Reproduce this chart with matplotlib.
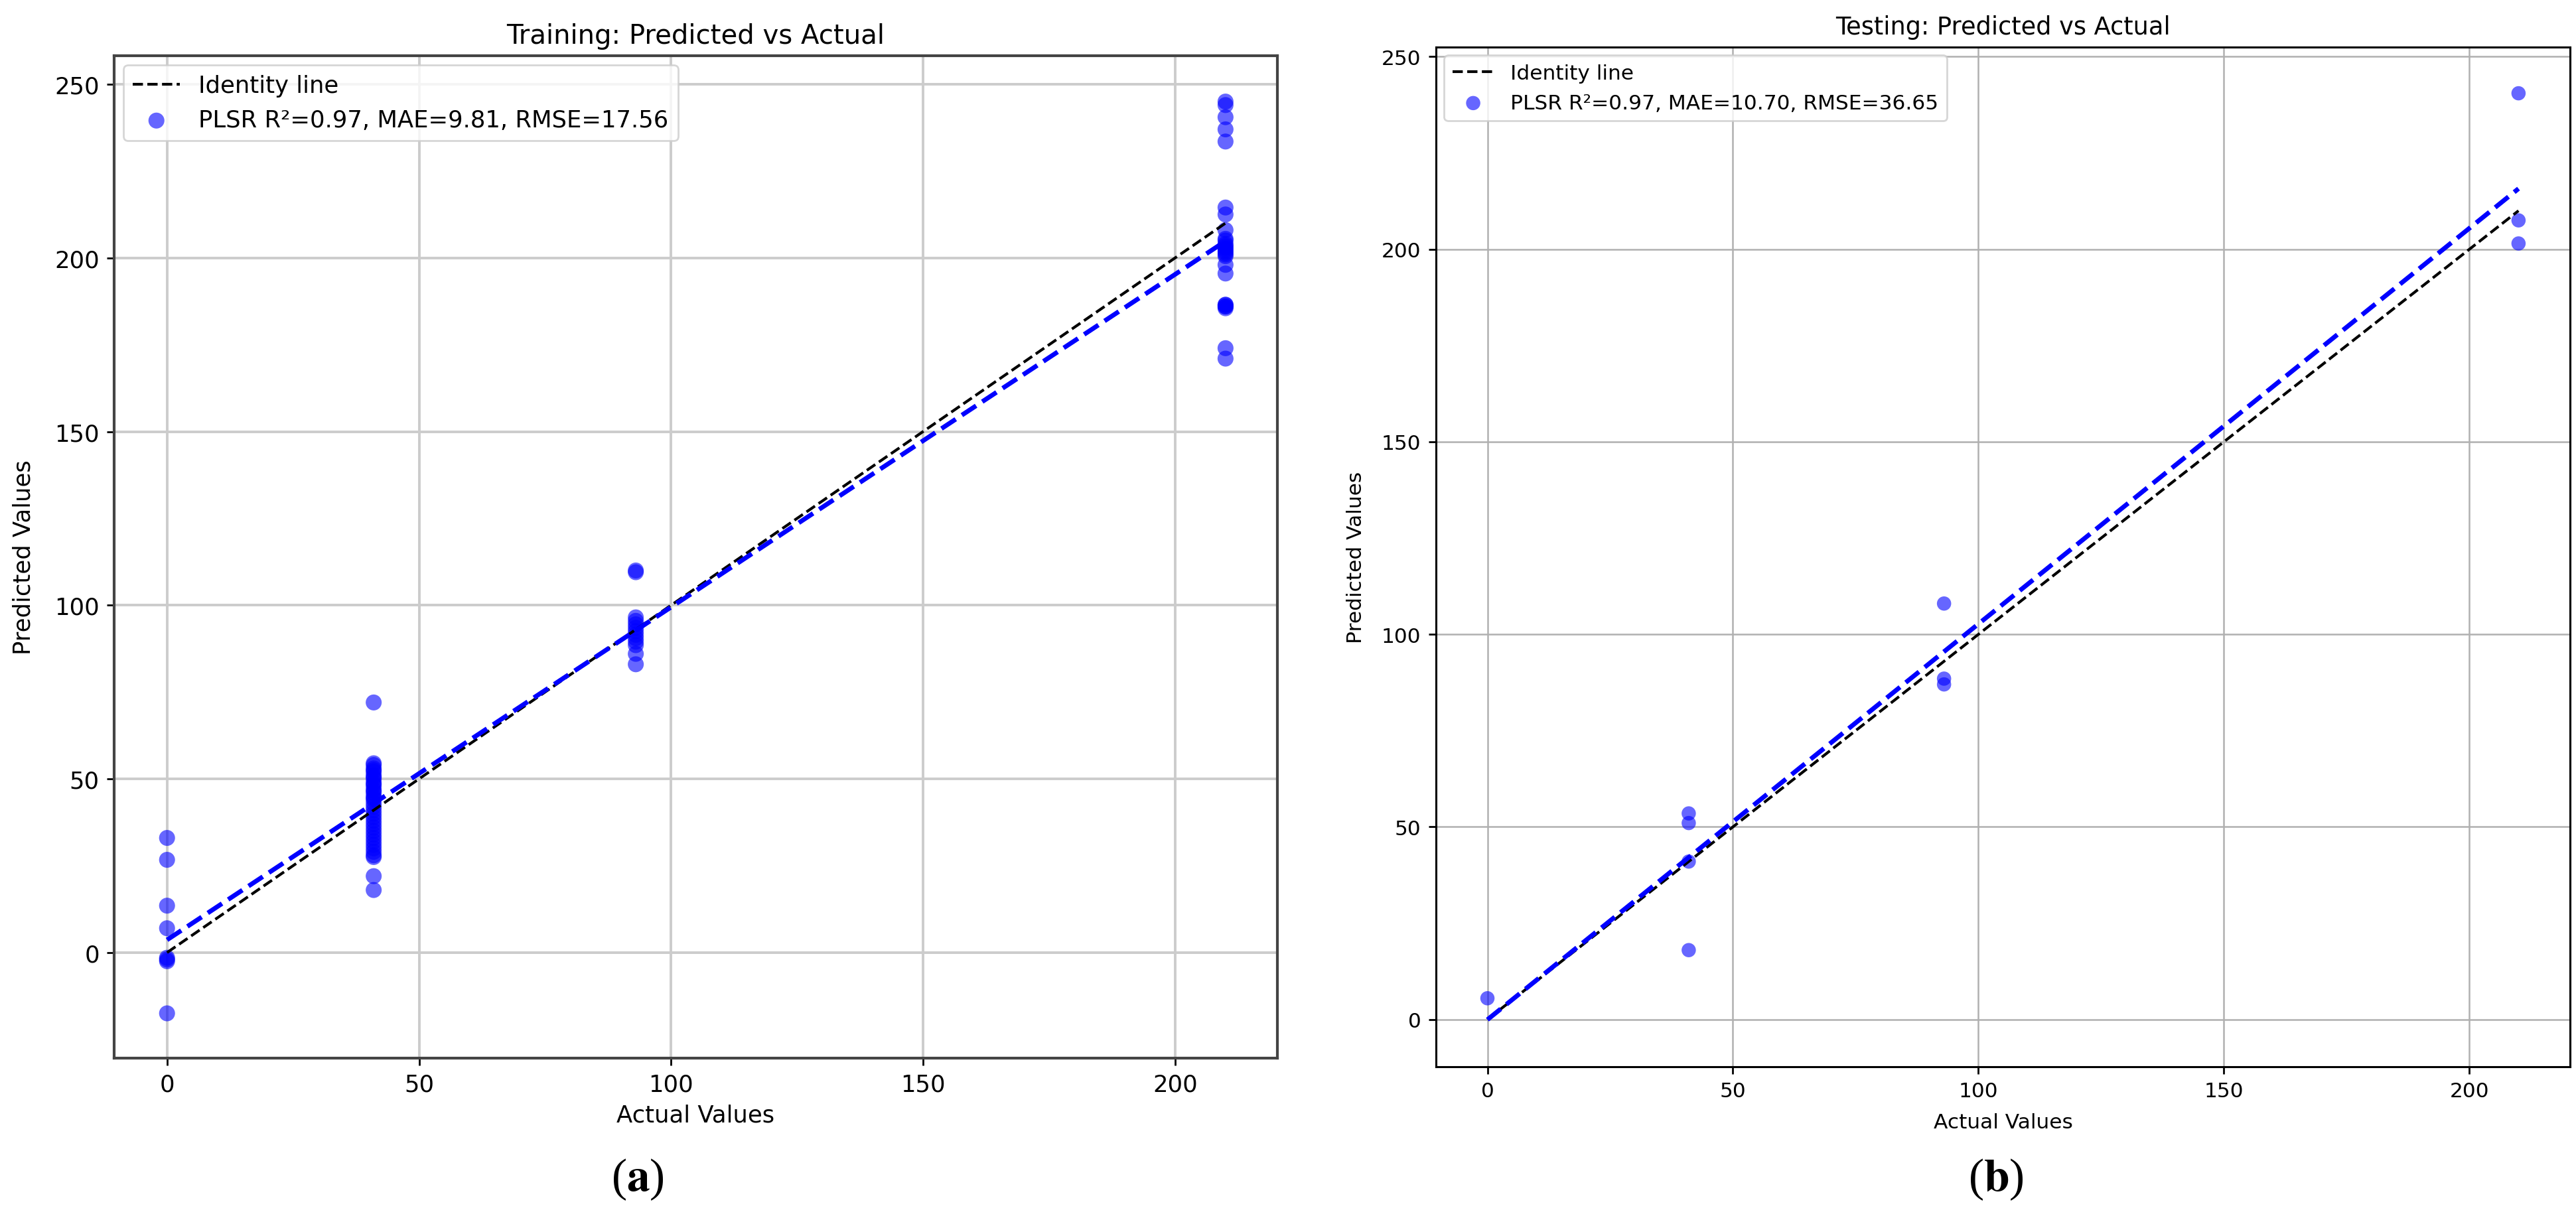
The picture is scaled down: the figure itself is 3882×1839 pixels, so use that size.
import numpy as np
import matplotlib
matplotlib.use("Agg")
import matplotlib.pyplot as plt

# ---------------- data ----------------
train_levels = [0, 41, 93, 210]
train_pred_0 = [33.0, 26.7, 13.5, 7.0, -1.5, -2.0, -2.5, -17.5]
train_pred_41 = [72.0, 54.5, 54.0, 53.0, 52.5, 52.0, 51.0, 50.5, 50.0, 49.0,
                 48.5, 48.0, 47.0, 46.5, 46.0, 45.0, 44.5, 44.0, 43.0, 42.0,
                 41.0, 40.0, 39.0, 38.0, 37.0, 36.0, 35.0, 34.0, 33.0, 32.0,
                 31.0, 30.0, 29.0, 28.0, 27.5, 22.0, 18.0]
train_pred_93 = [110.0, 109.5, 96.5, 95.5, 94.5, 93.5, 92.5, 91.5, 90.5, 89.5,
                 88.5, 86.0, 83.0]
train_pred_210 = [245.0, 244.0, 240.5, 237.0, 233.5, 214.5, 212.5, 208.0, 205.5,
                  205.0, 204.0, 203.5, 203.0, 202.5, 202.0, 201.5, 201.0, 200.5,
                  198.0, 195.5, 186.5, 186.0, 186.0, 186.5, 185.5, 174.0, 171.0]

test_actual = [0, 41, 41, 41, 41, 93, 93, 93, 210, 210, 210]
test_pred = [5.5, 53.5, 51.0, 41.0, 18.0, 108.0, 88.5, 87.0, 240.5, 207.5, 201.5]

train_label = "PLSR R\u00b2=0.97, MAE=9.81, RMSE=17.56"
test_label = "PLSR R\u00b2=0.97, MAE=10.70, RMSE=36.65"
train_title = "Training: Predicted vs Actual"
test_title = "Testing: Predicted vs Actual"
x_label = "Actual Values"
y_label = "Predicted Values"

# ---------------- build arrays ----------------
train_groups = [train_pred_0, train_pred_41, train_pred_93, train_pred_210]
train_actual = np.concatenate([[lv] * len(g) for lv, g in zip(train_levels, train_groups)]).astype(float)
train_pred = np.concatenate(train_groups).astype(float)
test_actual = np.asarray(test_actual, float)
test_pred = np.asarray(test_pred, float)

plt.rcParams['font.family'] = ['DejaVu Sans']
plt.rcParams['mathtext.fontset'] = 'stix'

fig = plt.figure(figsize=(38.82, 18.40), dpi=100)

ax1 = fig.add_axes([0.0443, 0.1326, 0.4516, 0.8212])
ax2 = fig.add_axes([0.5574, 0.1255, 0.4403, 0.8354])


def draw(ax, actual, pred, label, title, fs, tfs, msize, gridc, gridlw, spinec, spinelw):
    lo, hi = actual.min(), actual.max()
    ax.plot([lo, hi], [lo, hi], linestyle='--', color='black', lw=3.0,
            label='Identity line', zorder=3)
    ax.scatter(actual, pred, s=msize, color='blue', alpha=0.6, edgecolors='none',
               label=label, zorder=2)
    coef = np.polyfit(actual, pred, 1)
    xx = np.array([lo, hi])
    ax.plot(xx, np.polyval(coef, xx), linestyle='--', color='blue', lw=5.0, zorder=4)
    ax.set_title(title, fontsize=tfs, pad=14)
    ax.set_xlabel(x_label, fontsize=fs)
    ax.set_ylabel(y_label, fontsize=fs)
    ax.grid(True, color=gridc, lw=gridlw)
    ax.set_axisbelow(True)
    ax.set_xticks([0, 50, 100, 150, 200])
    ax.set_yticks([0, 50, 100, 150, 200, 250])
    ax.tick_params(labelsize=fs, length=8, width=2, pad=8)
    for sp in ax.spines.values():
        sp.set_color(spinec)
        sp.set_linewidth(spinelw)
    leg = ax.legend(loc='upper left', fontsize=fs, borderaxespad=0.4,
                    handlelength=2.0, framealpha=0.8)
    leg.get_frame().set_linewidth(2)


draw(ax1, train_actual, train_pred, train_label, train_title, 25.5, 29, 300,
     '#cccccc', 2.8, '#444444', 3.0)
draw(ax2, test_actual, test_pred, test_label, test_title, 22.5, 26.5, 240,
     '#b0b0b0', 1.8, 'black', 2.2)

ax1.set_xlim(-10.5, 220.3)
ax1.set_ylim(-30.4, 258.2)
ax2.set_xlim(-10.5, 220.5)
ax2.set_ylim(-12.3, 252.5)

ax1.yaxis.set_label_coords(-0.068, 0.5)
ax1.xaxis.set_label_coords(0.5, -0.045)
ax2.yaxis.set_label_coords(-0.062, 0.5)
ax2.xaxis.set_label_coords(0.5, -0.045)

fig.text(961 / 3882, 1 - 1778 / 1840, r'($\mathbf{a}$)', fontsize=50,
         family='Liberation Serif', ha='center', va='center')
fig.text(3008 / 3882, 1 - 1778 / 1840, r'($\mathbf{b}$)', fontsize=50,
         family='Liberation Serif', ha='center', va='center')

fig.savefig('out.png', dpi=100, facecolor='white')
